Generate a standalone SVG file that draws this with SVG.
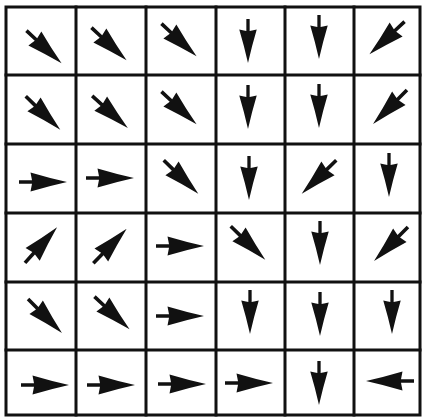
<svg xmlns="http://www.w3.org/2000/svg" xmlns:xlink="http://www.w3.org/1999/xlink" width="424" height="418" viewBox="0 0 424 418">
<style>
.grid{fill:none;stroke:#111;stroke-width:3;stroke-linecap:square}
.arr{fill:#111}
</style>
<defs>
<path id="a" class="arr" d="M-24,-1.8 H-11 L-12.5,-9.5 Q6,-4 24,0 Q6,4 -12.5,9.5 L-11,1.8 H-24 Z"/>
</defs>
<rect width="424" height="418" fill="#fff"/>
<g id="connectors" class="grid">
<rect x="6" y="7" width="414" height="408"/>
<path d="M76,7V415 M146,7V415 M216,7V415 M285,7V415 M354,7V415 M6,75H420 M6,144H420 M6,213H420 M6,282H420 M6,350H420"/>
</g>
<g id="r0c0"><use xlink:href="#a" transform="translate(44,47) rotate(43)"/></g>
<g id="r0c1"><use xlink:href="#a" transform="translate(109,44) rotate(43)"/></g>
<g id="r0c2"><use xlink:href="#a" transform="translate(179,40) rotate(43)"/></g>
<g id="r0c3"><use xlink:href="#a" transform="translate(248,41) rotate(90) scale(0.92)"/></g>
<g id="r0c4"><use xlink:href="#a" transform="translate(319,37) rotate(90) scale(0.92)"/></g>
<g id="r0c5"><use xlink:href="#a" transform="translate(387,38) rotate(137)"/></g>
<g id="r1c0"><use xlink:href="#a" transform="translate(43,113) rotate(44)"/></g>
<g id="r1c1"><use xlink:href="#a" transform="translate(110,112) rotate(42)"/></g>
<g id="r1c2"><use xlink:href="#a" transform="translate(179,108) rotate(43)"/></g>
<g id="r1c3"><use xlink:href="#a" transform="translate(248,107) rotate(90) scale(0.92)"/></g>
<g id="r1c4"><use xlink:href="#a" transform="translate(319,106) rotate(90) scale(0.92)"/></g>
<g id="r1c5"><use xlink:href="#a" transform="translate(390,107) rotate(135)"/></g>
<g id="r2c0"><use xlink:href="#a" transform="translate(43,182)"/></g>
<g id="r2c1"><use xlink:href="#a" transform="translate(110,178)"/></g>
<g id="r2c2"><use xlink:href="#a" transform="translate(181,177) rotate(44)"/></g>
<g id="r2c3"><use xlink:href="#a" transform="translate(249,178) rotate(90) scale(0.92)"/></g>
<g id="r2c4"><use xlink:href="#a" transform="translate(319,177) rotate(136)"/></g>
<g id="r2c5"><use xlink:href="#a" transform="translate(389,175) rotate(90) scale(0.92)"/></g>
<g id="r3c0"><use xlink:href="#a" transform="translate(41,245) rotate(-48)"/></g>
<g id="r3c1"><use xlink:href="#a" transform="translate(110,246) rotate(-46)"/></g>
<g id="r3c2"><use xlink:href="#a" transform="translate(180,246)"/></g>
<g id="r3c3"><use xlink:href="#a" transform="translate(248,243) rotate(44)"/></g>
<g id="r3c4"><use xlink:href="#a" transform="translate(320,243) rotate(90) scale(0.92)"/></g>
<g id="r3c5"><use xlink:href="#a" transform="translate(391,244) rotate(135)"/></g>
<g id="r4c0"><use xlink:href="#a" transform="translate(45,316) rotate(45)"/></g>
<g id="r4c1"><use xlink:href="#a" transform="translate(112,313) rotate(43)"/></g>
<g id="r4c2"><use xlink:href="#a" transform="translate(180,316)"/></g>
<g id="r4c3"><use xlink:href="#a" transform="translate(250,312) rotate(90) scale(0.92)"/></g>
<g id="r4c4"><use xlink:href="#a" transform="translate(320,314) rotate(90) scale(0.92)"/></g>
<g id="r4c5"><use xlink:href="#a" transform="translate(392,312) rotate(90) scale(0.92)"/></g>
<g id="r5c0"><use xlink:href="#a" transform="translate(45,385)"/></g>
<g id="r5c1"><use xlink:href="#a" transform="translate(111,385)"/></g>
<g id="r5c2"><use xlink:href="#a" transform="translate(182,384)"/></g>
<g id="r5c3"><use xlink:href="#a" transform="translate(249,383)"/></g>
<g id="r5c4"><use xlink:href="#a" transform="translate(319,383) rotate(90) scale(0.92)"/></g>
<g id="r5c5"><use xlink:href="#a" transform="translate(390,381) rotate(180)"/></g>
</svg>
